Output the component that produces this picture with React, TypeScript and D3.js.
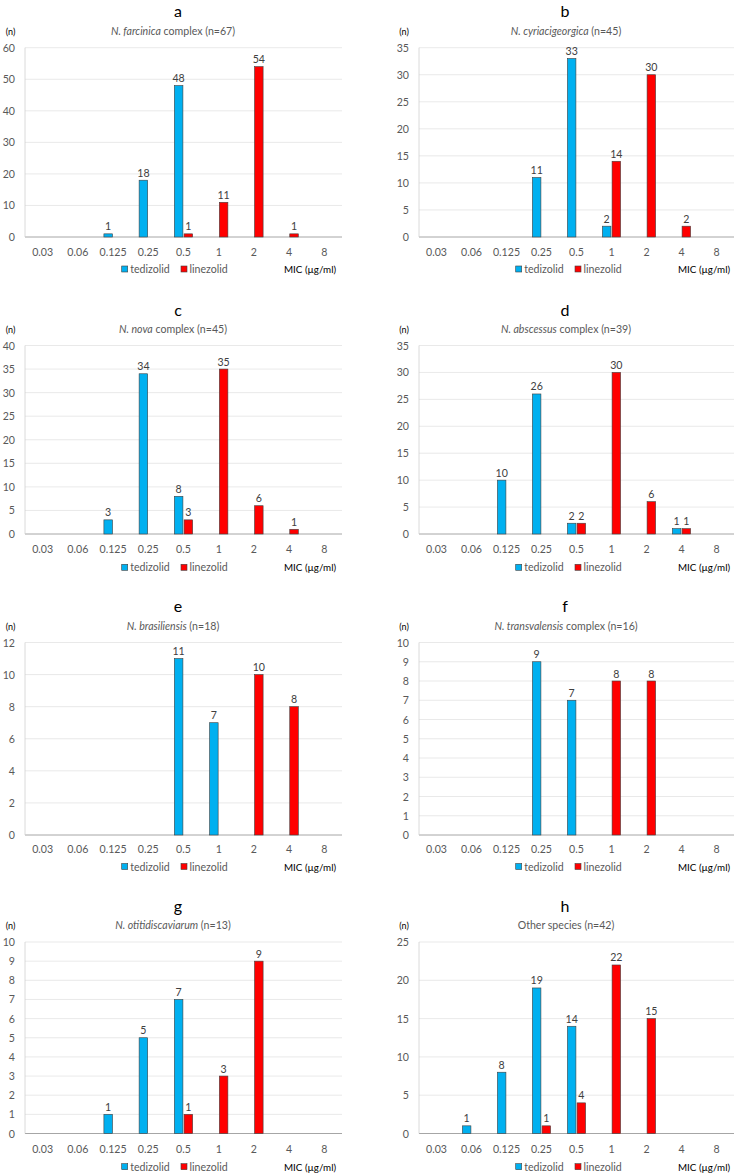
import React from "react";
import * as d3 from "d3";

const categories = ["0.03", "0.06", "0.125", "0.25", "0.5", "1", "2", "4", "8"];
const panelLetters = ["a", "b", "c", "d", "e", "f", "g", "h"];
const speciesItalic = ["N. farcinica", "N. cyriacigeorgica", "N. nova", "N. abscessus", "N. brasiliensis", "N. transvalensis", "N. otitidiscaviarum", ""];
const speciesRest = [" complex (n=67)", " (n=45)", " complex (n=45)", " complex (n=39)", " (n=18)", " complex (n=16)", " (n=13)", "Other species (n=42)"];

const tedizolid = [
  [0, 0, 1, 18, 48, 0, 0, 0, 0],
  [0, 0, 0, 11, 33, 2, 0, 0, 0],
  [0, 0, 3, 34, 8, 0, 0, 0, 0],
  [0, 0, 10, 26, 2, 0, 0, 1, 0],
  [0, 0, 0, 0, 11, 7, 0, 0, 0],
  [0, 0, 0, 9, 7, 0, 0, 0, 0],
  [0, 0, 1, 5, 7, 0, 0, 0, 0],
  [0, 1, 8, 19, 14, 0, 0, 0, 0],
];
const linezolid = [
  [0, 0, 0, 0, 1, 11, 54, 1, 0],
  [0, 0, 0, 0, 0, 14, 30, 2, 0],
  [0, 0, 0, 0, 3, 35, 6, 1, 0],
  [0, 0, 0, 0, 2, 30, 6, 1, 0],
  [0, 0, 0, 0, 0, 0, 10, 8, 0],
  [0, 0, 0, 0, 0, 8, 8, 0, 0],
  [0, 0, 0, 0, 1, 3, 9, 0, 0],
  [0, 0, 0, 1, 4, 22, 15, 0, 0],
];
const yMax = [60, 35, 40, 35, 12, 10, 10, 25];
const yStep = [10, 5, 5, 5, 2, 1, 1, 5];
const seriesNames = ["tedizolid", "linezolid"];
const seriesColors = ["#00B0F0", "#FF0000"];

const rows = [
  { letterY: 10, subY: 31, top: 47.7, bottom: 237, catY: 252, legY: 269 },
  { letterY: 309, subY: 329, top: 345.5, bottom: 534, catY: 549, legY: 567.3 },
  { letterY: 605, subY: 626, top: 642.5, bottom: 835, catY: 849, legY: 866.5 },
  { letterY: 905, subY: 925, top: 942, bottom: 1133.5, catY: 1149, legY: 1166.7 },
];
const cols = [
  { plotL: 25, plotR: 342, tickR: 15, nX: 10.5, letterX: 178, subX: 173 },
  { plotL: 419, plotR: 734, tickR: 409, nX: 404, letterX: 565, subX: 566 },
];

const FONT = "Lato, 'Open Sans', sans-serif";
const FS = 10.6;

function Panel({ i }: { i: number }) {
  const r = rows[Math.floor(i / 2)];
  const c = cols[i % 2];
  const x = d3.scaleBand<string>().domain(categories).range([c.plotL, c.plotR]).paddingInner(0).paddingOuter(0);
  const y = d3.scaleLinear().domain([0, yMax[i]]).range([r.bottom, r.top]);
  const ticks = d3.range(0, yMax[i] + 0.0001, yStep[i]);
  const bw = x.bandwidth();
  const gw = bw * 0.52;
  const sub = d3.scaleBand<string>().domain(seriesNames).range([-gw / 2, gw / 2]).paddingInner(0.12);
  const data = [tedizolid[i], linezolid[i]];
  const legX = c.plotL + 96.7;
  return (
    <g>
      <text x={c.letterX} y={r.letterY} textAnchor="middle" dominantBaseline="central" fontSize={16} fill="#000" fontFamily={FONT}>
        {panelLetters[i]}
      </text>
      <text x={c.nX} y={r.subY} textAnchor="middle" dominantBaseline="central" fontSize={9} fill="#000" fontFamily={FONT}>
        (n)
      </text>
      <text x={c.subX} y={r.subY} textAnchor="middle" dominantBaseline="central" fontSize={FS} fill="#595959" fontFamily={FONT}>
        {speciesItalic[i] ? <tspan fontStyle="italic">{speciesItalic[i]}</tspan> : null}
        <tspan>{speciesRest[i]}</tspan>
      </text>
      {ticks.map((t) => (
        <g key={"t" + t}>
          <line x1={c.plotL} x2={c.plotR} y1={y(t)} y2={y(t)} stroke={t === 0 ? "#a6a6a6" : "#e3e3e3"} strokeWidth={t === 0 ? 1 : 0.8} />
          <text x={c.tickR} y={y(t)} textAnchor="end" dominantBaseline="central" fontSize={FS} fill="#595959" fontFamily={FONT}>
            {t}
          </text>
        </g>
      ))}
      <line x1={c.plotL} x2={c.plotL} y1={r.top} y2={r.bottom} stroke="#d0d0d0" strokeWidth={0.8} />
      {categories.map((cat) => (
        <text key={"c" + cat} x={(x(cat) as number) + bw / 2} y={r.catY} textAnchor="middle" dominantBaseline="central" fontSize={FS} fill="#595959" fontFamily={FONT}>
          {cat}
        </text>
      ))}
      {data.map((vals, s) =>
        vals.map((v, k) => {
          if (!v) return null;
          const cx = (x(categories[k]) as number) + bw / 2;
          const bx = cx + (sub(seriesNames[s]) as number);
          return (
            <g key={"b" + s + "-" + k}>
              <rect x={bx} y={y(v)} width={sub.bandwidth()} height={r.bottom - y(v)} fill={seriesColors[s]} stroke="#404040" strokeWidth={0.6} />
              <text x={bx + sub.bandwidth() / 2} y={y(v) - 7.5} textAnchor="middle" dominantBaseline="central" fontSize={FS} fill="#404040" fontFamily={FONT}>
                {v}
              </text>
            </g>
          );
        })
      )}
      {seriesNames.map((nm, s) => (
        <g key={"l" + nm}>
          <rect x={legX + s * 59.3} y={r.legY - 3} width={6} height={6} fill={seriesColors[s]} stroke="#404040" strokeWidth={0.6} />
          <text x={legX + s * 59.3 + 8.5} y={r.legY} dominantBaseline="central" fontSize={FS} fill="#595959" fontFamily={FONT}>
            {nm}
          </text>
        </g>
      ))}
      <text x={c.plotL + 259} y={r.legY} dominantBaseline="central" fontSize={9.8} fill="#000" fontFamily={FONT}>
        MIC (µg/ml)
      </text>
    </g>
  );
}

export default function App() {
  return (
    <svg width={742} height={1175} style={{ position: "absolute", left: 0, top: 0, background: "#fff" }}>
      <rect width={742} height={1175} fill="#fff" />
      {panelLetters.map((_, i) => (
        <Panel key={i} i={i} />
      ))}
    </svg>
  );
}
